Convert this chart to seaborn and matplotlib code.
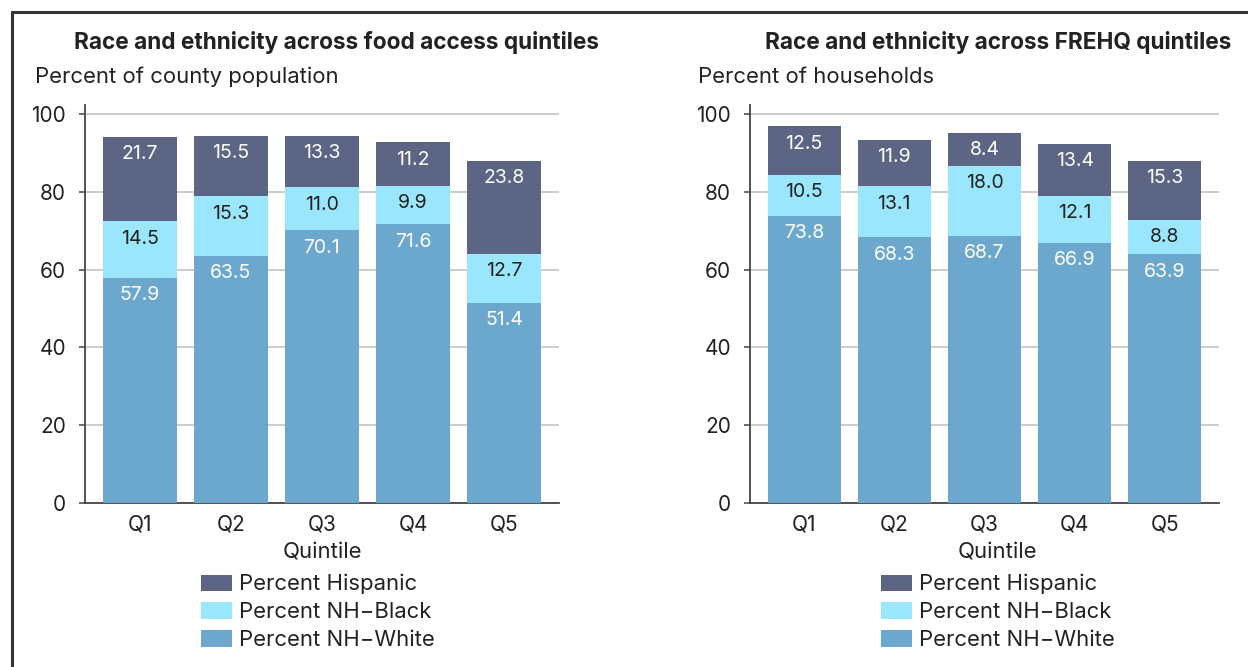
import matplotlib
matplotlib.use("Agg")
import matplotlib.pyplot as plt
from matplotlib.patches import Patch
from matplotlib.lines import Line2D
import numpy as np
import pandas as pd
import seaborn as sns

# Data
quintiles = ["Q1", "Q2", "Q3", "Q4", "Q5"]

food_white = [57.9, 63.5, 70.1, 71.6, 51.4]
food_black = [14.5, 15.3, 11.0, 9.9, 12.7]
food_hispanic = [21.7, 15.5, 13.3, 11.2, 23.8]

frehq_white = [73.8, 68.3, 68.7, 66.9, 63.9]
frehq_black = [10.5, 13.1, 18.0, 12.1, 8.8]
frehq_hispanic = [12.5, 11.9, 8.4, 13.4, 15.3]

series_names = ["Percent Hispanic", "Percent NH\u2212Black", "Percent NH\u2212White"]
yticks = [0, 20, 40, 60, 80, 100]

C_HISP = "#5d6584"
C_BLACK = "#9ae7fd"
C_WHITE = "#6ca8ce"
TXT = "#222222"
FS = 15.9

sns.set_theme(style="white")
plt.rcParams["font.family"] = ["Inter", "DejaVu Sans"]

fig = plt.figure(figsize=(12.48, 6.67), dpi=100)
W, H = 1248, 667


def stacked(ax, white, black, hisp):
    df = pd.DataFrame({"q": quintiles, "white": white, "black": black, "hisp": hisp})
    df["wb"] = df["white"] + df["black"]
    df["total"] = df["wb"] + df["hisp"]
    kw = dict(x="q", order=quintiles, ax=ax, width=0.81, saturation=1, linewidth=0, zorder=3)
    sns.barplot(data=df, y="total", color=C_HISP, **kw)
    sns.barplot(data=df, y="wb", color=C_BLACK, **kw)
    sns.barplot(data=df, y="white", color=C_WHITE, **kw)
    for i, row in df.iterrows():
        for top, val, col in ((row["total"], row["hisp"], "white"),
                              (row["wb"], row["black"], TXT),
                              (row["white"], row["white"], "white")):
            ax.annotate(f"{val:.1f}", (i, top), xytext=(0, -6), textcoords="offset points",
                        ha="center", va="top", fontsize=14, color=col, zorder=5)
    ax.set_xlim(-0.6, 4.6)
    ax.set_ylim(0, 102.3)
    ax.set_yticks(yticks)
    ax.yaxis.grid(True, color="#cccccc", linewidth=1.4, zorder=0)
    ax.set_axisbelow(True)
    for s in ("top", "right"):
        ax.spines[s].set_visible(False)
    for s in ("left", "bottom"):
        ax.spines[s].set_color("#444444")
        ax.spines[s].set_linewidth(1.3)
    ax.tick_params(axis="y", length=4.5, width=1.1, color="#444444", pad=9,
                   labelsize=15, labelcolor=TXT, left=True)
    ax.tick_params(axis="x", length=0, pad=8, labelsize=15, labelcolor=TXT)
    ax.set_ylabel("")
    ax.set_xlabel("Quintile", fontsize=FS, color=TXT, labelpad=4)
    handles = [Patch(facecolor=c, edgecolor="none") for c in (C_HISP, C_BLACK, C_WHITE)]
    return handles


ax1 = fig.add_axes([85 / W, 1 - 503 / H, (559 - 85) / W, (503 - 105) / H])
ax2 = fig.add_axes([750 / W, 1 - 503 / H, (1219 - 750) / W, (503 - 105) / H])

h = stacked(ax1, food_white, food_black, food_hispanic)
stacked(ax2, frehq_white, frehq_black, frehq_hispanic)
ax1.xaxis.set_label_coords((322 - 85) / (559 - 85), -0.098)
ax2.xaxis.set_label_coords((997 - 750) / (1219 - 750), -0.098)

for x0, ttl in ((337, "Race and ethnicity across food access quintiles"),
                (998, "Race and ethnicity across FREHQ quintiles")):
    fig.text(x0 / W, 1 - 43 / H, ttl, ha="center", va="center", fontsize=16.3,
             fontweight="bold", color=TXT)

fig.text(35 / W, 1 - 77 / H, "Percent of county population", ha="left", va="center",
         fontsize=FS, color=TXT)
fig.text(698 / W, 1 - 77 / H, "Percent of households", ha="left", va="center",
         fontsize=FS, color=TXT)

for lx in (201, 881):
    fig.legend(h, series_names, loc="upper left", bbox_to_anchor=(lx / W, 1 - 574 / H),
               frameon=False, fontsize=FS, borderpad=0, borderaxespad=0,
               handlelength=1.4, handleheight=0.78, handletextpad=0.32,
               labelspacing=0.36, labelcolor=TXT)

# Frame along the top and left edges
fig.add_artist(Line2D([12 / W, 1], [1 - 12 / H, 1 - 12 / H], color="#333333", linewidth=2.2,
                      transform=fig.transFigure))
fig.add_artist(Line2D([12 / W, 12 / W], [0, 1 - 12 / H], color="#333333", linewidth=2.2,
                      transform=fig.transFigure))

fig.savefig("out.png", dpi=100, facecolor="white")
